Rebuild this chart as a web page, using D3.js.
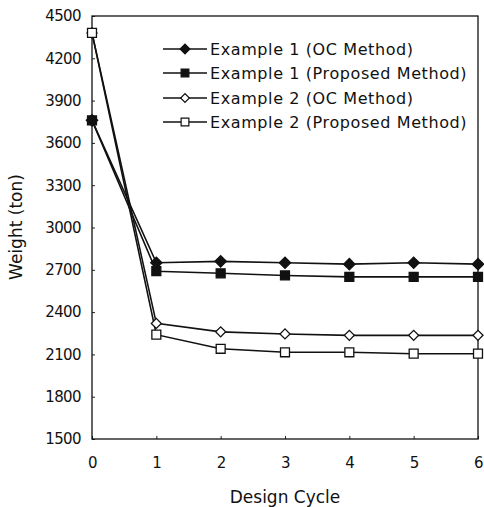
<!DOCTYPE html>
<html>
<head>
<meta charset="utf-8">
<script src="https://cdn.jsdelivr.net/npm/d3@7"></script>
<style>
	body { margin: 0; background: #fff; }
	text { font-family: "DejaVu Sans", sans-serif; fill: #111; }
</style>
</head>
<body>
<div id="chart"></div>
<script>
(function () {
	'use strict';

	// data
	var cycles = [0, 1, 2, 3, 4, 5, 6];
	var ex1OC = [3760, 2750, 2760, 2750, 2740, 2750, 2740];
	var ex1Proposed = [3760, 2690, 2675, 2660, 2650, 2650, 2650];
	var ex2OC = [4380, 2320, 2260, 2245, 2235, 2235, 2235];
	var ex2Proposed = [4380, 2240, 2140, 2115, 2115, 2105, 2105];
	var yTicks = [1500, 1800, 2100, 2400, 2700, 3000, 3300, 3600, 3900, 4200, 4500];
	var seriesNames = ["Example 1 (OC Method)", "Example 1 (Proposed Method)",
		"Example 2 (OC Method)", "Example 2 (Proposed Method)"];

	// diamond = square turned by 45 degrees
	var series = [
		{name: seriesNames[0], values: ex1OC, rot: 45, fill: "#111", size: 64},
		{name: seriesNames[1], values: ex1Proposed, rot: 0, fill: "#111", size: 80},
		{name: seriesNames[2], values: ex2OC, rot: 45, fill: "#fff", size: 50},
		{name: seriesNames[3], values: ex2Proposed, rot: 0, fill: "#fff", size: 80}
	];

	var width = 484, height = 507;
	var left = 92, right = 478, top = 16, bottom = 439;

	var svg = d3.select("#chart").append("svg")
		.attr("width", width)
		.attr("height", height);

	var x = d3.scaleLinear().domain([0, 6]).range([left, right]);
	var y = d3.scaleLinear().domain([1500, 4500]).range([bottom, top]);

	// axes with small inward ticks
	var xAxis = svg.append("g")
		.attr("transform", "translate(0," + bottom + ")")
		.call(d3.axisBottom(x).tickValues(cycles).tickSize(-3).tickPadding(18).tickFormat(d3.format("d")));
	var yAxis = svg.append("g")
		.attr("transform", "translate(" + left + ",0)")
		.call(d3.axisLeft(y).tickValues(yTicks).tickSize(-3).tickPadding(11).tickFormat(d3.format("d")));

	[xAxis, yAxis].forEach(function (g) {
		g.select(".domain").remove();
		g.selectAll("line").attr("stroke", "#222");
		g.selectAll("text").style("font-size", "15px").attr("fill", "#111").style("letter-spacing", "-0.6px");
	});

	// frame
	svg.append("rect")
		.attr("x", left).attr("y", top)
		.attr("width", right - left).attr("height", bottom - top)
		.attr("fill", "none").attr("stroke", "#111").attr("stroke-width", 1.3);

	var line = d3.line()
		.x(function (d, i) { return x(cycles[i]); })
		.y(function (d) { return y(d); });

	series.forEach(function (s) {
		svg.append("path")
			.datum(s.values)
			.attr("d", line)
			.attr("fill", "none")
			.attr("stroke", "#111")
			.attr("stroke-width", 1.6);
	});

	series.forEach(function (s) {
		svg.append("g").selectAll("path")
			.data(s.values)
			.enter().append("path")
			.attr("transform", function (d, i) {
				return "translate(" + x(cycles[i]) + "," + y(d) + ") rotate(" + s.rot + ")";
			})
			.attr("d", d3.symbol().type(d3.symbolSquare).size(s.size))
			.attr("fill", s.fill)
			.attr("stroke", "#111")
			.attr("stroke-width", 1.3);
	});

	// legend
	var legend = svg.append("g");
	var rowY = [49, 73, 98, 122];
	series.forEach(function (s, i) {
		var row = legend.append("g").attr("transform", "translate(0," + rowY[i] + ")");
		row.append("line")
			.attr("x1", 163).attr("x2", 207)
			.attr("stroke", "#111").attr("stroke-width", 1.3);
		row.append("path")
			.attr("transform", "translate(185,0) rotate(" + s.rot + ")")
			.attr("d", d3.symbol().type(d3.symbolSquare).size(s.size * 0.75))
			.attr("fill", s.fill)
			.attr("stroke", "#111")
			.attr("stroke-width", 1.2);
		row.append("text")
			.attr("x", 210).attr("dy", "0.35em")
			.style("font-size", "16px")
			.style("letter-spacing", "0.6px")
			.text(s.name);
	});

	// axis titles
	svg.append("text")
		.attr("transform", "translate(22," + 227 + ") rotate(-90)")
		.attr("text-anchor", "middle")
		.style("font-size", "17px")
		.text("Weight (ton)");
	svg.append("text")
		.attr("x", 285).attr("y", 503)
		.attr("text-anchor", "middle")
		.style("font-size", "17px")
		.text("Design Cycle");
}());
</script>
</body>
</html>
